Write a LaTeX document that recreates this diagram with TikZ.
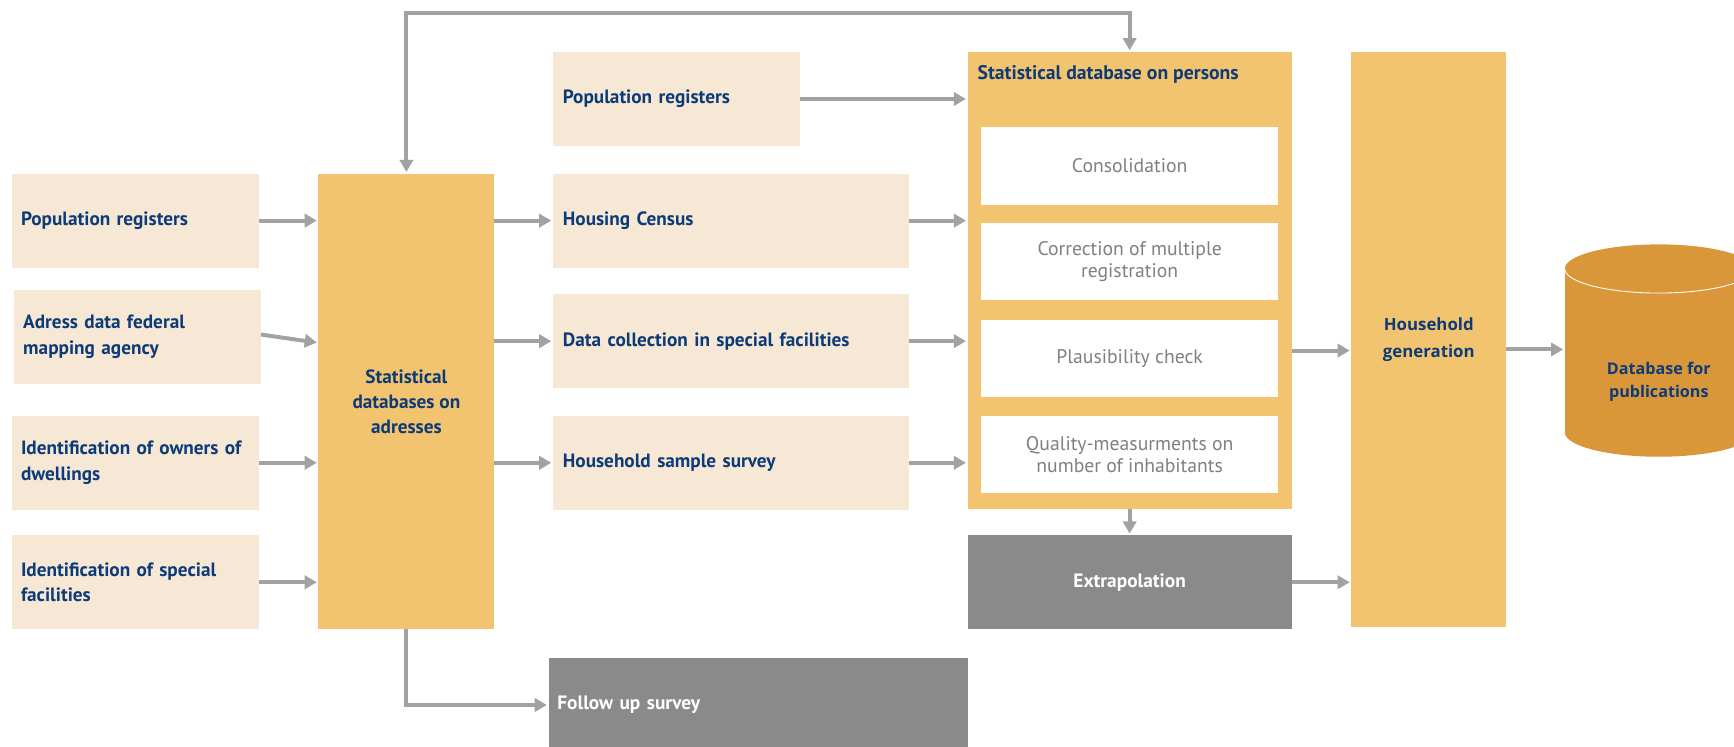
\documentclass[tikz,border=0pt]{standalone}
\usepackage{fontspec}
\setmainfont{PT Sans}
\newfontfamily\widefam{Open Sans}
\usetikzlibrary{arrows.meta}
\definecolor{cBeige}{HTML}{F6E8D5}
\definecolor{cYel}{HTML}{F2C46F}
\definecolor{cOr}{HTML}{D9973A}
\definecolor{cGray}{HTML}{8A8A8A}
\definecolor{cArr}{HTML}{A2A2A2}
\definecolor{cBlue}{HTML}{0D3B78}
\definecolor{cTxt}{HTML}{808080}
\begin{document}
\begin{tikzpicture}[x=1pt,y=-1pt,
  blk/.style={rectangle, inner sep=0pt, outer sep=0pt, draw=none},
  src/.style={blk, fill=cBeige, text=cBlue, font=\fontsize{17.4}{23}\selectfont\bfseries,
     align=left, inner xsep=8pt, minimum height=85pt, anchor=north west},
  srcL/.style={src, text width=207pt},
  srcM/.style={src, inner xsep=9pt, text width=304pt},
  yelbox/.style={blk, fill=cYel, text=cBlue},
  inbox/.style={blk, fill=white, minimum width=268pt, minimum height=70pt, text=cTxt,
     font=\fontsize{17.8}{20.5}\selectfont, align=center},
  graybox/.style={blk, fill=cGray, text=white, font=\fontsize{17.5}{23}\selectfont\bfseries},
  arr/.style={draw=cArr, line width=3.6pt, -{Triangle[length=11pt,width=12pt]}, shorten >=1.5pt},
  darr/.style={draw=cArr, line width=3.6pt, {Triangle[length=11pt,width=12pt]}-{Triangle[length=11pt,width=12pt]}, shorten >=1.5pt, shorten <=1.5pt}
]
\useasboundingbox (0,0) rectangle (1568,675);
\clip (0,0) rectangle (1568,675);

% left column
\node[srcL] (l1) at (11,157) {Population registers};
\node[srcL] (l2) at (13,262) {Adress data federal\\mapping agency};
\node[srcL] (l3) at (11,376) {Identification of owners of\\dwellings};
\node[srcL] (l4) at (11,484) {Identification of special\\facilities};

% statistical databases on adresses
\node[yelbox, minimum width=159pt, minimum height=412pt, align=center,
      font=\fontsize{17.4}{22.5}\selectfont\bfseries] (sa) at (367.5,363)
      {Statistical\\databases on\\adresses};

% middle column
\node[src, inner xsep=9pt, text width=205pt] (m0) at (500,47) {Population registers};
\node[srcM] (m1) at (500,157) {Housing Census};
\node[srcM] (m2) at (500,266) {Data collection in special facilities};
\node[srcM] (m3) at (500,376) {Household sample survey};

% follow up
\node[graybox, anchor=north west, minimum height=85pt, inner xsep=8pt, text width=363pt, align=left]
      (fu) at (496,595) {Follow up survey};

% statistical database on persons
\node[yelbox, anchor=north west, minimum width=293pt, minimum height=413pt] (sp) at (875,47) {};
\node[blk, anchor=west, text=cBlue, font=\fontsize{17.8}{20}\selectfont\bfseries] (spt) at (884,67)
      {Statistical database on persons};
\node[inbox] (c1) at (1021.5,150) {Consolidation};
\node[inbox] (c2) at (1021.5,236.5) {Correction of multiple\\registration};
\node[inbox] (c3) at (1021.5,324) {Plausibility check};
\node[inbox] (c4) at (1021.5,411) {Quality-measurments on\\number of inhabitants};

% extrapolation
\node[graybox, minimum width=293pt, minimum height=85pt] (ex) at (1021.5,526.5) {Extrapolation};

% household generation
\node[yelbox, minimum width=140pt, minimum height=520pt, align=center,
      font=\fontsize{15.2}{24}\selectfont\widefam\bfseries] (hh) at (1292,307) {Household\\generation};

% database cylinder
\fill[cOr] (1415,243) rectangle (1585,391);
\fill[cOr] (1500,391) ellipse [x radius=85pt, y radius=22pt];
\fill[cOr] (1500,243) ellipse [x radius=85pt, y radius=22pt];
\draw[white, line width=0.8pt] (1415,243) arc[start angle=180, end angle=360, x radius=85pt, y radius=22pt];
\node[blk, minimum width=170pt, minimum height=120pt, align=center, text=cBlue,
      font=\fontsize{14.6}{21}\selectfont\widefam\bfseries] (db) at (1500,345) {Database for\\publications};

% arrows left -> sa
\draw[arr] (l1.east) -- (sa.west |- l1.east);
\draw[arr] ([yshift=2pt]l2.east) -- (sa.west |- 0,310);
\draw[arr] (l3.east) -- (sa.west |- l3.east);
\draw[arr] (l4.east) -- (sa.west |- l4.east);

% sa -> middle
\draw[arr] (sa.east |- m1.west) -- (m1.west);
\draw[arr] (sa.east |- m2.west) -- (m2.west);
\draw[arr] (sa.east |- m3.west) -- (m3.west);

% middle -> sp
\draw[arr] (m0.east) -- (sp.west |- m0.east);
\draw[arr] (m1.east) -- (sp.west |- m1.east);
\draw[arr] (m2.east) -- (sp.west |- m2.east);
\draw[arr] (m3.east) -- (sp.west |- m3.east);

% sa -> follow up
\draw[arr] (sa.south) |- (fu.west);

% feedback line
\draw[darr] (sa.north) -- (sa.north |- 0,12) -| (sp.north);

% sp -> extrapolation
\draw[arr] (sp.south) -- (ex.north);

% to household generation
\draw[arr] (sp.east |- 0,317) -- (hh.west |- 0,317);
\draw[arr] (ex.east) -- (hh.west |- ex.east);

% hh -> db
\draw[arr] (hh.east |- 0,316) -- (db.west |- 0,316);
\end{tikzpicture}
\end{document}
